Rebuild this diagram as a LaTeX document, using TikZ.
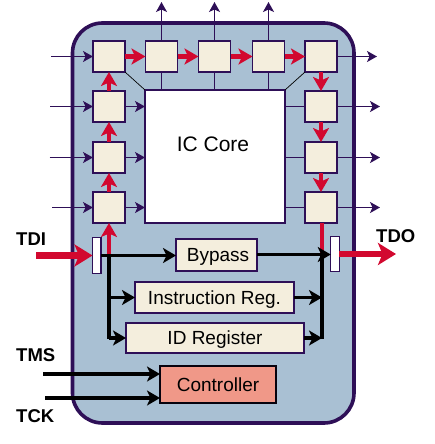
\documentclass[tikz,border=0pt]{standalone}
\usepackage{fontspec}
\setmainfont{Liberation Sans}
\usetikzlibrary{arrows.meta}
\definecolor{chipbg}{HTML}{A9C0D3}
\definecolor{cellbg}{HTML}{F4EEDD}
\definecolor{edge}{HTML}{2E0F57}
\definecolor{scan}{HTML}{D2082F}
\definecolor{ctrl}{HTML}{F09888}
\tikzset{
  cell/.style={draw=edge,line width=1.5pt,fill=cellbg,minimum width=32pt,minimum height=31pt,inner sep=0pt,outer sep=0pt},
  regbox/.style={draw=edge,line width=1.2pt,fill=cellbg,inner sep=0pt,outer sep=0pt,text height=13.6pt,text depth=0pt,font=\fontsize{19}{19}\selectfont},
  latch/.style={draw=edge,line width=1.2pt,fill=white,inner sep=0pt,outer sep=0pt,minimum width=8.5pt,minimum height=35.5pt},
  pin/.style={edge,line width=1.5pt,-{Stealth[length=10pt,width=11pt,inset=2.5pt]}},
  plain/.style={edge,line width=1.5pt},
  redar/.style={scan,line width=4.6pt,-{Stealth[length=14pt,width=16pt,inset=3.5pt]}},
  bigred/.style={scan,line width=6.5pt,-{Stealth[length=18pt,width=22pt,inset=4.5pt]}},
  blk/.style={black,line width=3.6pt,-{Stealth[length=13pt,width=15pt,inset=3.5pt]}},
  blkl/.style={black,line width=3.6pt},
  lbl/.style={font=\fontsize{18.5}{18.5}\selectfont\bfseries,inner sep=0pt,text=black}
}
\begin{document}
\begin{tikzpicture}[x=1pt,y=-1pt]
\useasboundingbox (0,0) rectangle (434,444);
% chip
\node[draw=edge,line width=3.6pt,fill=chipbg,rounded corners=30pt,minimum width=281.5pt,minimum height=400pt,inner sep=0pt] (chip) at (213.25,223) {};
% core
\node[draw=edge,line width=1.4pt,fill=white,minimum width=140pt,minimum height=133pt,inner sep=0pt,outer sep=0pt] (core) at (215,156.5) {};
\node[font=\fontsize{21}{21}\selectfont,inner sep=0pt] (coretext) at (213,144) {IC Core};
% cells
\node[cell] (t1) at (109,56.5) {};
\node[cell] (t2) at (161.5,56.5) {};
\node[cell] (t3) at (214.5,56.5) {};
\node[cell] (t4) at (268.5,56.5) {};
\node[cell] (t5) at (321,56.5) {};
\node[cell] (l1) at (109,106.5) {};
\node[cell] (l2) at (109,157.5) {};
\node[cell] (l3) at (109,207.5) {};
\node[cell] (r1) at (321,106.5) {};
\node[cell] (r2) at (321,157.5) {};
\node[cell] (r3) at (321,207.5) {};
% free ends
\coordinate (inA) at (51,56.5);
\coordinate (inB) at (50,106.5);
\coordinate (inC) at (49.5,157.5);
\coordinate (inD) at (52,207.5);
\coordinate (outA) at (377,56.5);
\coordinate (outB) at (380,106.5);
\coordinate (outC) at (380,157.5);
\coordinate (outD) at (380,207.5);
\coordinate (upA) at (161.5,2);
\coordinate (upB) at (214.5,2);
\coordinate (upC) at (268.5,2);
% pins
\draw[pin] (inA) -- (t1.west);
\draw[pin] (inB) -- (l1.west);
\draw[pin] (inC) -- (l2.west);
\draw[pin] (inD) -- (l3.west);
\draw[pin] (t5.east) -- (outA);
\draw[pin] (r1.east) -- (outB);
\draw[pin] (r2.east) -- (outC);
\draw[pin] (r3.east) -- (outD);
\draw[pin] (t2.north) -- (upA);
\draw[pin] (t3.north) -- (upB);
\draw[pin] (t4.north) -- (upC);
\draw[pin] (l1.east) -- (l1.east -| core.west);
\draw[pin] (l2.east) -- (l2.east -| core.west);
\draw[pin] (l3.east) -- (l3.east -| core.west);
\draw[plain] (r1.west) -- (r1.west -| core.east);
\draw[plain] (r2.west) -- (r2.west -| core.east);
\draw[plain] (r3.west) -- (r3.west -| core.east);
\draw[plain] (t2.south) -- (t2.south |- core.north);
\draw[plain] (t3.south) -- (t3.south |- core.north);
\draw[plain] (t4.south) -- (t4.south |- core.north);
\draw[black,line width=0.7pt] (t1.south east) -- (core.north west);
\draw[black,line width=0.7pt] (t5.south west) -- (core.north east);
% scan chain
\draw[redar] (l3.north) -- (l2.south);
\draw[redar] (l2.north) -- (l1.south);
\draw[redar] (l1.north) -- (t1.south);
\draw[redar] (t1.east) -- (t2.west);
\draw[redar] (t2.east) -- (t3.west);
\draw[redar] (t3.east) -- (t4.west);
\draw[redar] (t4.east) -- (t5.west);
\draw[redar] (t5.south) -- (r1.north);
\draw[redar] (r1.south) -- (r2.north);
\draw[redar] (r2.south) -- (r3.north);
% registers
\node[regbox,minimum width=81pt,minimum height=32pt] (bypass) at (216.5,255) {\hspace*{3pt}Bypass};
\node[regbox,minimum width=159pt,minimum height=31pt] (instr) at (214.5,297.5) {Instruction Reg.};
\node[regbox,minimum width=178pt,minimum height=30pt] (idreg) at (215,338) {ID Register};
\node[regbox,fill=ctrl,draw=black!85!edge,minimum width=116pt,minimum height=37pt] (controller) at (218,384.5) {Controller};
\node[latch] (tdilatch) at (96.75,255.5) {};
\node[latch] (tdolatch) at (335,254) {};
% junctions
\coordinate (jl) at (109,255.5);
\coordinate (jlb) at (109,339);
\coordinate (jr) at (322,254.5);
\coordinate (jrb) at (322,339);
% red from latch and to latch
\draw[scan,line width=4pt,-{Stealth[length=14pt,width=16pt,inset=3.5pt]}] (jl) -- (l3.south);
\draw[scan,line width=3.6pt] (r3.south -| jr) -- (jr);
% black paths
\draw[blk] (tdilatch.east) -- (tdilatch.east -| bypass.west);
\draw[blkl] (jl) -- (jlb);
\draw[blk] (jl |- instr.west) -- (instr.west);
\draw[blk] (jl |- idreg.west) -- (idreg.west);
\draw[blk] (jr -| bypass.east) -- (jr -| tdolatch.west);
\draw[blkl] (jr) -- (jrb);
\draw[blk] (instr.east) -- (jr |- instr.east);
\draw[blk] (idreg.east) -- (jr |- idreg.east);
% external
\coordinate (tdiin) at (36,255.5);
\coordinate (tdoout) at (396,254);
\coordinate (tmsin) at (43,374);
\coordinate (tckin) at (45,398);
\draw[bigred] (tdiin) -- (tdilatch.west);
\draw[bigred] (tdolatch.east) -- (tdoout);
\draw[blk] (tmsin) -- (tmsin -| controller.west);
\draw[blk] (tckin) -- (tckin -| controller.west);
% labels
\node[lbl,anchor=west] (tdi) at (16,239) {TDI};
\node[lbl,anchor=west] (tdo) at (376,236.5) {TDO};
\node[lbl,anchor=west] (tms) at (16,355) {TMS};
\node[lbl,anchor=west] (tck) at (16,416) {TCK};
\end{tikzpicture}
\end{document}
